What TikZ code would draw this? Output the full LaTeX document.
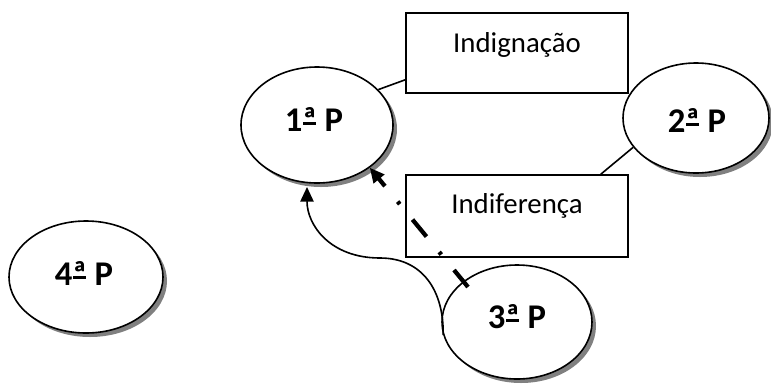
\documentclass[tikz,border=0pt]{standalone}
\usepackage{fontspec}
\setmainfont{Carlito}
\usetikzlibrary{shapes.geometric,arrows.meta}
\newcommand\myordu{\setbox0=\hbox{ª}\rlap{\hspace{0.03em}\rule[4.8pt]{\dimexpr\wd0-0.06em\relax}{2pt}}\box0}
\begin{document}
\begin{tikzpicture}[x=0.75pt,y=-0.75pt,
  pell/.style={ellipse,draw=black,line width=1.2pt,fill=white,inner sep=0pt},
  shad/.style={ellipse,fill=black!50,draw=none,inner sep=0pt},
  pbox/.style={rectangle,draw=black,line width=1.2pt,fill=white,minimum width=166.5pt,inner sep=0pt},
  plbl/.style={font=\fontsize{26}{30}\selectfont\bfseries,inner sep=0pt,anchor=base},
  blbl/.style={font=\fontsize{21.6}{26}\selectfont,inner sep=0pt,anchor=base},
  conn/.style={line width=1.2pt},
  curvarrow/.style={line width=1.2pt,-{Triangle[length=11pt,width=10pt]}},
  dasharrow/.style={line width=3.2pt,dash pattern=on 16.5pt off 15pt on 2.5pt off 15pt,-{Triangle[length=11pt,width=10pt]}}
]
\useasboundingbox (0,0) rectangle (771,383);
% shadows
\node[shad,minimum width=114pt,minimum height=87pt] (s1) at (321,129) {};
\node[shad,minimum width=109.5pt,minimum height=82.5pt] (s2) at (700,122) {};
\node[shad,minimum width=112.5pt,minimum height=85.5pt] (s3) at (521,326) {};
\node[shad,minimum width=115.5pt,minimum height=84pt] (s4) at (90,281) {};
% ellipses
\node[pell,minimum width=114pt,minimum height=87pt] (p1) at (317,125) {};
\node[pell,minimum width=109.5pt,minimum height=82.5pt] (p2) at (696,118) {};
\node[pell,minimum width=112.5pt,minimum height=85.5pt] (p3) at (517,322) {};
\node[pell,minimum width=115.5pt,minimum height=84pt] (p4) at (86,277) {};
% boxes
\node[pbox,minimum height=60pt] (ind) at (517,53) {};
\node[pbox,minimum height=61.5pt] (indif) at (517,216) {};
% connectors
\draw[conn] (p1.30) -- ([yshift=10.5pt]ind.south west);
\draw[conn] (p2.205) -- ([xshift=-21pt]indif.north east);
\coordinate (d3) at (468,287);
\coordinate (c1) at (307,187);
\draw[dasharrow] (d3) -- (p1.-39);
\draw[curvarrow] (p3.190) .. controls (444,290) and (422,258) .. (380,258) .. controls (330,258) and (307,225) .. (c1);
% labels
\node[plbl] (t1) at (314,131) {1\myordu{} P};
\node[plbl] (t2) at (697,132) {2\myordu{} P};
\node[plbl] (t3) at (517,328) {3\myordu{} P};
\node[plbl] (t4) at (84,285) {4\myordu{} P};
\node[blbl] (tind) at (517,52) {Indignação};
\node[blbl] (tindif) at (517,213) {Indiferença};
\end{tikzpicture}
\end{document}
